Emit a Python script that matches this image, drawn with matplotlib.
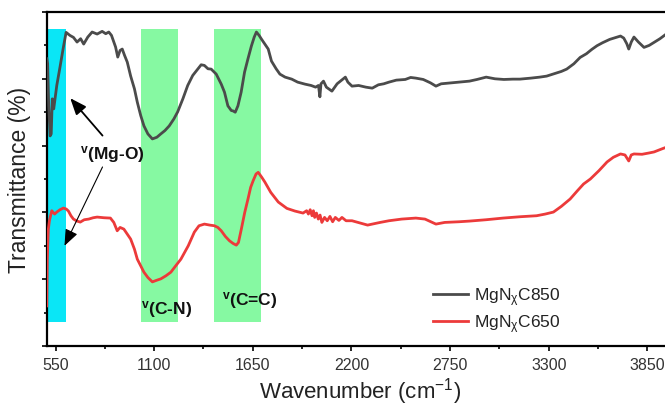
"""FTIR spectra of MgNxC850 / MgNxC650 with band assignments."""

import matplotlib

matplotlib.use("Agg")
import matplotlib.pyplot as plt
from matplotlib.ticker import MultipleLocator, NullFormatter

plt.rcParams.update(
    {
        "font.family": ["Liberation Sans", "DejaVu Sans"],
        "mathtext.fontset": "custom",
        "mathtext.rm": "Liberation Sans",
        "mathtext.it": "Liberation Sans",
        "mathtext.bf": "Liberation Sans:bold",
    }
)

# wavenumber (cm-1) / transmittance (a.u., offset)
wn_850 = [502, 506, 512, 520, 526, 532, 540, 557, 575, 594,
          609, 630, 650, 670, 690, 707, 730, 754, 782, 810,
          830, 847, 862, 875, 885, 897, 910, 922, 935, 950,
          969, 990, 1006, 1025, 1043, 1065, 1090, 1115, 1137, 1160,
          1184, 1210, 1231, 1260, 1287, 1315, 1343, 1362, 1380, 1400,
          1418, 1446, 1474, 1492, 1511, 1530, 1539, 1552, 1567, 1585,
          1604, 1623, 1642, 1658, 1670, 1685, 1698, 1716, 1736, 1754,
          1780, 1801, 1830, 1867, 1900, 1941, 1975, 2000, 2016, 2024,
          2030, 2044, 2060, 2091, 2120, 2150, 2166, 2180, 2203, 2240,
          2280, 2316, 2350, 2380, 2409, 2450, 2500, 2530, 2559, 2600,
          2640, 2671, 2700, 2760, 2800, 2858, 2900, 2951, 3000, 3050,
          3100, 3139, 3200, 3250, 3288, 3330, 3370, 3400, 3440, 3475,
          3510, 3540, 3569, 3600, 3640, 3681, 3700, 3718, 3735, 3746,
          3760, 3775, 3800, 3831, 3860, 3887, 3920, 3950, 3980]
tr_850 = [8.60, 8.45, 7.20, 6.29, 6.35, 7.40, 7.10, 7.80, 8.35, 8.95,
          9.39, 9.30, 9.24, 9.10, 9.20, 9.04, 9.25, 9.40, 9.34, 9.42,
          9.35, 9.40, 9.30, 9.10, 8.95, 8.65, 8.85, 8.89, 8.70, 8.50,
          8.08, 7.70, 7.30, 6.90, 6.59, 6.35, 6.20, 6.25, 6.35, 6.45,
          6.59, 6.80, 7.01, 7.40, 7.80, 8.10, 8.29, 8.42, 8.40, 8.30,
          8.29, 8.14, 7.84, 7.60, 7.19, 7.05, 7.04, 7.00, 7.19, 7.60,
          8.20, 8.60, 8.98, 9.25, 9.40, 9.30, 9.19, 9.05, 8.89, 8.53,
          8.30, 8.14, 8.05, 7.99, 7.90, 7.84, 7.80, 7.75, 7.80, 7.46,
          7.85, 7.93, 7.75, 7.63, 7.85, 7.98, 8.05, 7.90, 7.78, 7.80,
          7.75, 7.72, 7.82, 7.85, 7.90, 7.96, 7.98, 8.04, 8.02, 7.98,
          7.88, 7.78, 7.85, 7.88, 7.90, 7.93, 7.98, 8.05, 8.00, 7.98,
          7.99, 7.99, 8.02, 8.05, 8.08, 8.15, 8.22, 8.29, 8.45, 8.64,
          8.75, 8.88, 8.99, 9.08, 9.18, 9.25, 9.28, 9.22, 9.05, 8.89,
          9.10, 9.25, 9.10, 8.94, 9.00, 9.09, 9.20, 9.32, 9.44]

wn_650 = [501, 504, 510, 516, 529, 545, 557, 575, 594, 610,
          622, 636, 650, 670, 688, 710, 735, 760, 782, 820,
          856, 875, 894, 910, 931, 950, 969, 990, 1006, 1025,
          1043, 1065, 1090, 1115, 1137, 1165, 1193, 1220, 1249, 1290,
          1324, 1350, 1380, 1410, 1436, 1455, 1474, 1497, 1520, 1540,
          1558, 1570, 1586, 1605, 1623, 1638, 1652, 1668, 1680, 1700,
          1717, 1750, 1792, 1840, 1885, 1930, 1950, 1960, 1970, 1980,
          1988, 1995, 2005, 2015, 2025, 2035, 2050, 2065, 2080, 2095,
          2110, 2130, 2147, 2170, 2203, 2250,
          2290, 2316, 2360, 2409, 2480, 2559, 2610, 2671, 2720, 2800,
          2858, 2950, 3045, 3140, 3232, 3280, 3326, 3370, 3419, 3460,
          3494, 3532, 3580, 3625, 3660, 3700, 3725, 3746, 3760, 3775,
          3820, 3860, 3887, 3930, 3980]
tr_650 = [1.20, 2.60, 3.50, 3.75, 4.05, 3.95, 4.01, 4.08, 4.13, 4.10,
          4.04, 3.90, 3.80, 3.74, 3.71, 3.78, 3.80, 3.84, 3.86, 3.84,
          3.83, 3.70, 3.45, 3.55, 3.50, 3.35, 3.20, 2.90, 2.60, 2.40,
          2.21, 2.05, 1.92, 1.97, 2.01, 2.10, 2.21, 2.40, 2.60, 3.00,
          3.41, 3.60, 3.65, 3.62, 3.60, 3.55, 3.45, 3.28, 3.15, 3.07,
          3.02, 3.10, 3.50, 4.00, 4.40, 4.75, 4.95, 5.15, 5.20, 5.05,
          4.91, 4.60, 4.31, 4.12, 4.04, 3.98, 4.05, 3.95, 4.08, 3.90,
          4.05, 3.85, 3.98, 3.80, 3.92, 3.70, 3.85, 3.75, 3.88, 3.72,
          3.85, 3.76, 3.85, 3.75, 3.75, 3.68,
          3.62, 3.65, 3.70, 3.75, 3.80, 3.83, 3.80, 3.65, 3.70, 3.72,
          3.74, 3.78, 3.83, 3.87, 3.90, 3.95, 4.01, 4.18, 4.40, 4.65,
          4.85, 5.00, 5.25, 5.51, 5.65, 5.75, 5.72, 5.54, 5.72, 5.75,
          5.74, 5.78, 5.81, 5.90, 6.00]

# shaded band assignment regions (cm-1)
mgo_band = (500, 610)
cn_band = (1025, 1231)
cc_band = (1436, 1694)
band_low, band_high = 0.72, 9.5

fig = plt.figure(figsize=(6.65, 4.06), dpi=100)
ax = fig.add_axes([0.070, 0.1453, 0.944, 0.8227])

ax.fill_between(mgo_band, band_low, band_high, color="#0ae6f6", lw=0, zorder=0)
for band in (cn_band, cc_band):
    ax.fill_between(band, band_low, band_high, color="#86f9a2", lw=0, zorder=0)

ax.plot(wn_850, tr_850, color="#4b4b4b", lw=2.0, label=r"MgN$_{\chi}$C850", zorder=3)
ax.plot(wn_650, tr_650, color="#ec3a3a", lw=2.0, label=r"MgN$_{\chi}$C650", zorder=3)

ax.set_xlim(500, 4000)
ax.set_ylim(0, 10)
ax.set_xticks([550, 1100, 1650, 2200, 2750, 3300, 3850])
ax.xaxis.set_minor_locator(MultipleLocator(275))
ax.yaxis.set_major_locator(MultipleLocator(2))
ax.yaxis.set_minor_locator(MultipleLocator(1))
ax.yaxis.set_major_formatter(NullFormatter())
ax.tick_params(axis="both", which="major", direction="out", length=3.8, width=1.2,
               labelsize=11.5, colors="black")
ax.tick_params(axis="both", which="minor", direction="out", length=2.4, width=1.2)
ax.tick_params(axis="x", labelcolor="#333333", pad=4)
ax.spines["right"].set_visible(False)
for side in ("left", "bottom", "top"):
    ax.spines[side].set_linewidth(1.6)

ax.set_xlabel(r"Wavenumber (cm$^{-1}$)", fontsize=16, labelpad=2, color="#222222")
ax.set_ylabel("Transmittance (%)", fontsize=16.5, labelpad=4, color="#222222")

# band labels and arrows
lbl_kw = dict(fontsize=12.5, fontweight="bold", ha="center", va="center", color="#111111")
ax.text(868, 5.75, r"$^{\mathbf{v}}$(Mg-O)", **lbl_kw)
ax.annotate("", xy=(632, 7.42), xytext=(812, 6.30),
            arrowprops=dict(arrowstyle="-|>,head_length=1.0,head_width=0.4",
                            color="black", lw=1.3, shrinkA=0, shrinkB=0))
ax.annotate("", xy=(600, 3.0), xytext=(812, 5.36),
            arrowprops=dict(arrowstyle="-|>,head_length=1.0,head_width=0.4",
                            color="black", lw=0.8, shrinkA=0, shrinkB=0))
ax.text(1171, 1.11, r"$^{\mathbf{v}}$(C-N)", **lbl_kw)
ax.text(1634, 1.38, r"$^{\mathbf{v}}$(C=C)", **lbl_kw)

leg = ax.legend(loc="upper left", bbox_to_anchor=(0.605, 0.203), frameon=False,
                fontsize=12.5, handlelength=2.0, handletextpad=0.35,
                labelspacing=0.25, borderaxespad=0)
for text in leg.get_texts():
    text.set_color("#222222")

fig.savefig("out.png", dpi=100)
